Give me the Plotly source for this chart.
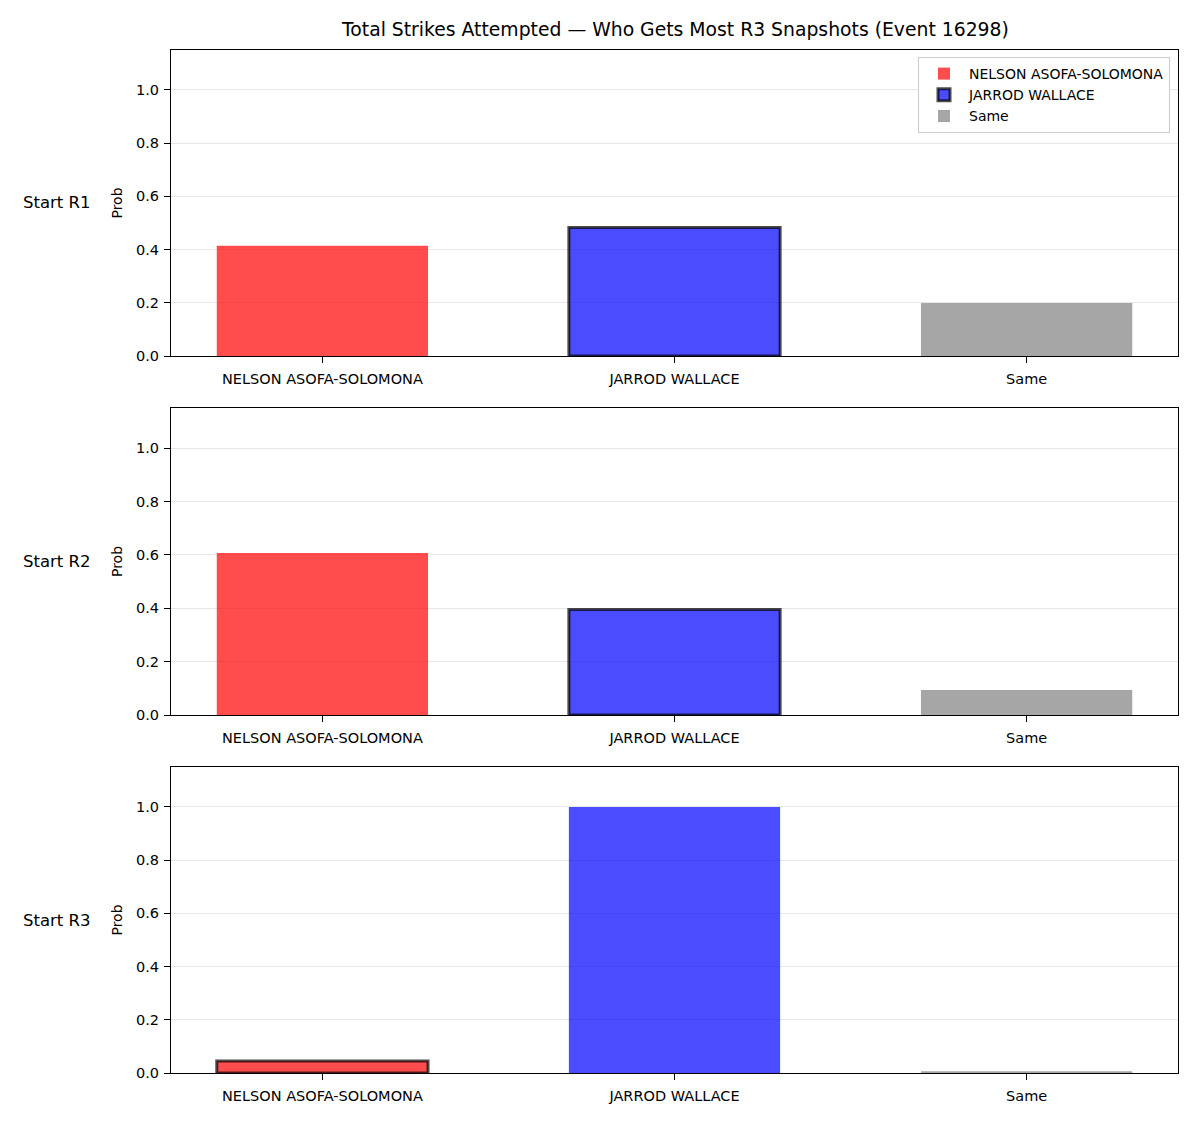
import plotly.graph_objects as go

categories = ["NELSON ASOFA-SOLOMONA", "JARROD WALLACE", "Same"]
rows = ["Start R1", "Start R2", "Start R3"]
prob_r1 = [0.414, 0.483, 0.199]
prob_r2 = [0.607, 0.395, 0.094]
prob_r3 = [0.045, 1.0, 0.007]
highlight = ["JARROD WALLACE", "JARROD WALLACE", "NELSON ASOFA-SOLOMONA"]
title = "Total Strikes Attempted — Who Gets Most R3 Snapshots (Event 16298)"
yticks = [0.0, 0.2, 0.4, 0.6, 0.8, 1.0]

colors = {"NELSON ASOFA-SOLOMONA": "rgba(255,0,0,0.7)",
          "JARROD WALLACE": "rgba(0,0,255,0.7)",
          "Same": "rgba(128,128,128,0.7)"}

W, H = 1200, 1125
x0, x1 = 171 / W, 1178 / W
domains = [(50, 356), (408, 715), (767, 1073)]
font = "DejaVu Sans"

fig = go.Figure()
data = [prob_r1, prob_r2, prob_r3]
for r, vals in enumerate(data):
    xa = "x" if r == 0 else f"x{r+1}"
    ya = "y" if r == 0 else f"y{r+1}"
    for i, cat in enumerate(categories):
        hl = (cat == highlight[r])
        fig.add_trace(go.Bar(
            x=[i], y=[vals[i]], width=0.6, name=cat,
            marker=dict(color=colors[cat],
                        line=dict(color="rgba(0,0,0,0.7)" if hl else "rgba(0,0,0,0)",
                                  width=3 if hl else 0)),
            showlegend=(r == 0), legendrank=i,
            xaxis=xa, yaxis=ya))

layout = dict(
    width=W, height=H, margin=dict(l=0, r=0, t=0, b=0, autoexpand=False),
    paper_bgcolor="white", plot_bgcolor="white",
    font=dict(family=font, size=14, color="black"),
    showlegend=True, barmode="overlay",
    legend=dict(x=1170 / W, y=1 - 57 / H, xanchor="right", yanchor="top",
                bgcolor="white", bordercolor="#cccccc", borderwidth=1,
                font=dict(size=14), traceorder="normal", tracegroupgap=0,
                itemwidth=40),
    annotations=[],
)
for r, (top, bot) in enumerate(domains):
    suf = "" if r == 0 else str(r + 1)
    layout["xaxis" + suf] = dict(
        domain=[x0, x1], range=[-0.43, 2.43], tickvals=[0, 1, 2], ticktext=categories,
        showgrid=False, zeroline=False, showline=True, linecolor="black", linewidth=1.25,
        mirror=True, ticks="outside", ticklen=6, tickcolor="black", automargin=False,
        ticklabelstandoff=3,
        anchor="y" + suf, tickfont=dict(size=14.5))
    layout["yaxis" + suf] = dict(
        domain=[1 - bot / H, 1 - top / H], range=[0, 1.15], tickvals=yticks,
        ticktext=[f"{v:.1f}" for v in yticks], automargin=False,
        showgrid=True, gridcolor="rgba(176,176,176,0.3)", gridwidth=1, zeroline=False,
        showline=True, linecolor="black", linewidth=1.25, mirror=True,
        ticks="outside", ticklen=6, tickcolor="black", anchor="x" + suf,
        ticklabelstandoff=2,
        title=dict(text="Prob", font=dict(size=14), standoff=10), tickfont=dict(size=14.5))
    layout["annotations"].append(dict(
        text=rows[r], x=57 / W, y=1 - (top + bot) / 2 / H, xref="paper", yref="paper",
        showarrow=False, font=dict(size=16.5), xanchor="center", yanchor="middle"))

layout["annotations"].append(dict(
    text=title, x=(171 + 1178) / 2 / W, y=1 - 30 / H, xref="paper", yref="paper",
    showarrow=False, font=dict(size=18.8), xanchor="center", yanchor="middle"))

fig.update_layout(**layout)
fig.write_html("out.html")
